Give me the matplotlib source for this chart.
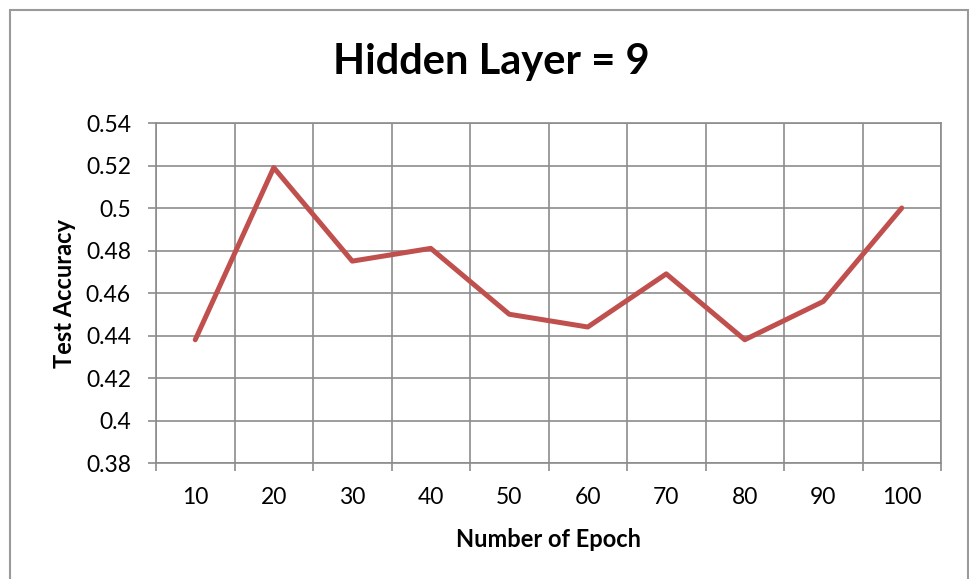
import matplotlib
matplotlib.use("Agg")
import matplotlib.pyplot as plt
from matplotlib.patches import Rectangle

epochs = ["10", "20", "30", "40", "50", "60", "70", "80", "90", "100"]
accuracy = [0.438, 0.519, 0.475, 0.481, 0.450, 0.444, 0.469, 0.438, 0.456, 0.500]
y_ticks = [0.38, 0.40, 0.42, 0.44, 0.46, 0.48, 0.50, 0.52, 0.54]
y_tick_labels = ["0.38", "0.4", "0.42", "0.44", "0.46", "0.48", "0.5", "0.52", "0.54"]

plt.rcParams["font.family"] = ["Lato", "DejaVu Sans"]
grid_color = "#8c8c8c"

fig = plt.figure(figsize=(9.7, 5.79), dpi=100)
W, H = 970, 579

# outer chart border (open at the bottom edge of the image)
fig.patches.append(Rectangle((10 / W, -10 / H), 958 / W, 579 / H, transform=fig.transFigure,
                             fill=False, edgecolor="#9a9a9a", linewidth=1.5))

ax = fig.add_axes([156 / W, 1 - 463 / H, 785 / W, 340 / H])
x = [i + 0.5 for i in range(len(epochs))]
ax.plot(x, accuracy, color="#c0504d", linewidth=3.6, solid_joinstyle="round",
        solid_capstyle="round", zorder=3)

ax.set_xlim(0, len(epochs))
ax.set_ylim(0.38, 0.54)
ax.set_yticks(y_ticks)
ax.set_yticklabels(y_tick_labels, fontsize=16.5)
ax.set_xticks(range(len(epochs) + 1))
ax.set_xticklabels([])
ax.set_xticks(x, minor=True)
ax.set_xticklabels(epochs, minor=True, fontsize=16.5)
ax.tick_params(axis="x", which="minor", length=0, pad=17)
ax.tick_params(axis="x", which="major", length=6, color=grid_color, width=1.2, direction="out")
ax.tick_params(axis="y", length=6, color=grid_color, width=1.2, direction="out", pad=12)

ax.grid(True, which="major", color=grid_color, linewidth=1.2)
ax.set_axisbelow(True)
for s in ax.spines.values():
    s.set_color(grid_color)
    s.set_linewidth(1.2)

ax.set_xlabel("Number of Epoch", fontsize=17, fontweight="bold", labelpad=15)
ax.set_ylabel("Test Accuracy", fontsize=17, fontweight="bold", labelpad=7)
fig.text(491 / W, 1 - 62 / H, "Hidden Layer = 9", fontsize=30, fontweight="bold",
         ha="center", va="center")

fig.savefig("out.png", dpi=100)
